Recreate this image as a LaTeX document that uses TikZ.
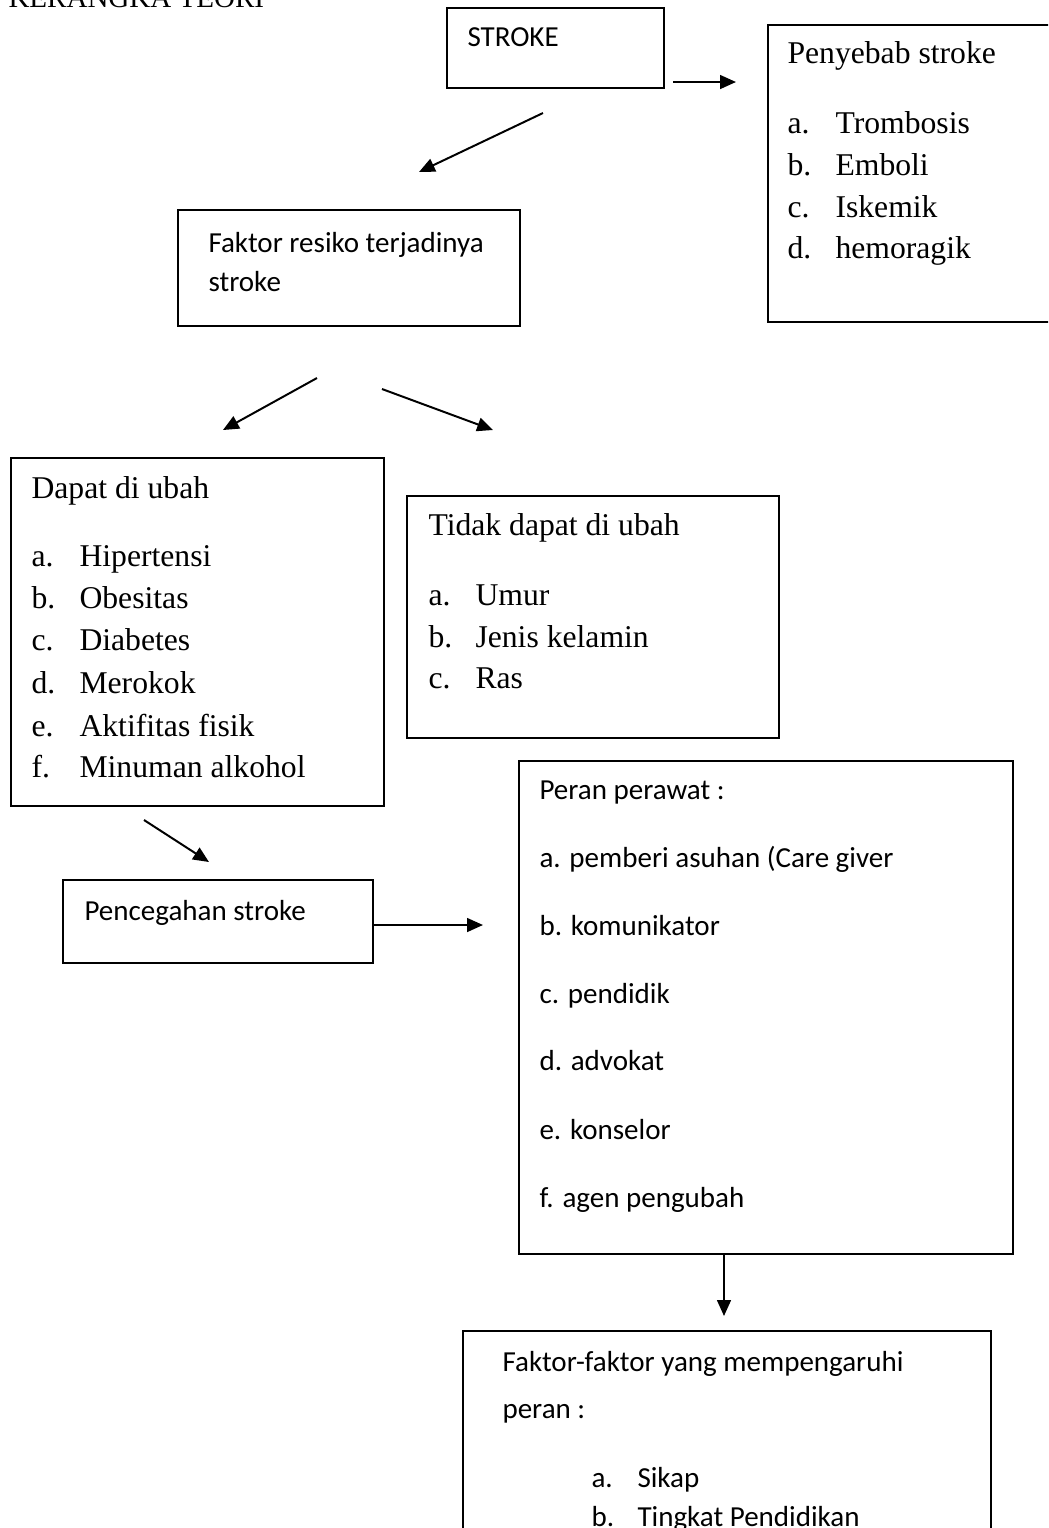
\documentclass[tikz,border=0pt]{standalone}
\usepackage{fontspec}
\setmainfont{Liberation Serif}
\newfontfamily\calibri{Carlito}
\usetikzlibrary{arrows.meta, positioning}
\newcommand{\pxu}{0.379pt}
\tikzset{
  kbox/.style={draw=black, line width=0.6pt, inner sep=0pt, anchor=north west},
  ttext/.style={anchor=base west, inner sep=0pt, font=\fontsize{12}{14}\selectfont},
  ctext/.style={anchor=base west, inner sep=0pt, font=\calibri\fontsize{11}{13}\selectfont},
  arr/.style={-{Triangle[length=6pt, width=5.2pt]}, line width=0.75pt},
}

\begin{document}
\begin{tikzpicture}[x=0.379pt, y=-0.379pt]
  \useasboundingbox (0,0) rectangle (1048,1528);
  \clip (0,0) rectangle (1048,1528);

  %% Judul
  \node[ttext, font=\fontsize{11}{13}\selectfont] (judul) at (8,7) {KERANGKA TEORI};

  %% Stroke
  \node[kbox, minimum width=217*\pxu, minimum height=80*\pxu] (stroke) at (446,7) {};
  \node[ctext] (stroketxt) at (467,46) {STROKE};

  %% Penyebab stroke
  \node[kbox, minimum width=300*\pxu, minimum height=297*\pxu] (sebab) at (767,24) {};
  \node[ttext] (sebabtxt) at (787,63) {Penyebab stroke};
  \foreach \k/\t/\y [count=\i] in {a./Trombosis/133, b./Emboli/175, c./Iskemik/217, d./hemoragik/258} {
    \node[ttext] (sebabk\i) at (787,\y) {\k};
    \node[ttext] (sebabt\i) at (835,\y) {\t};
  }

  %% Faktor resiko
  \node[kbox, minimum width=342*\pxu, minimum height=116*\pxu] (resiko) at (177,209) {};
  \node[ctext] (resikotxt1) at (208,252) {Faktor resiko terjadinya};
  \node[ctext] (resikotxt2) at (208,291) {stroke};

  %% Dapat di ubah
  \node[kbox, minimum width=373*\pxu, minimum height=348*\pxu] (dapat) at (10,457) {};
  \node[ttext] (dapattxt) at (31,498) {Dapat di ubah};
  \foreach \k/\t/\y [count=\i] in {a./Hipertensi/566, b./Obesitas/608, c./Diabetes/650,
      d./Merokok/693, e./Aktifitas fisik/736, f./Minuman alkohol/777} {
    \node[ttext] (dapatk\i) at (31,\y) {\k};
    \node[ttext] (dapatt\i) at (79,\y) {\t};
  }

  %% Tidak dapat di ubah
  \node[kbox, minimum width=372*\pxu, minimum height=242*\pxu] (tidak) at (406,495) {};
  \node[ttext] (tidaktxt) at (428,535) {Tidak dapat di ubah};
  \foreach \k/\t/\y [count=\i] in {a./Umur/605, b./Jenis kelamin/647, c./Ras/688} {
    \node[ttext] (tidakk\i) at (428,\y) {\k};
    \node[ttext] (tidakt\i) at (475,\y) {\t};
  }

  %% Pencegahan stroke
  \node[kbox, minimum width=310*\pxu, minimum height=83*\pxu] (cegah) at (62,879) {};
  \node[ctext] (cegahtxt) at (84,920) {Pencegahan stroke};

  %% Peran perawat
  \node[kbox, minimum width=494*\pxu, minimum height=493*\pxu] (peran) at (518,760) {};
  \foreach \t/\y [count=\i] in {{Peran perawat :}/799, {a. pemberi asuhan (Care giver}/867,
      {b. komunikator}/935, {c. pendidik}/1003, {d. advokat}/1070, {e. konselor}/1139,
      {f. agen pengubah}/1207} {
    \node[ctext] (perant\i) at (539,\y) {\t};
  }

  %% Faktor yang mempengaruhi
  \node[kbox, minimum width=528*\pxu, minimum height=215*\pxu] (pengaruh) at (462,1330) {};
  \node[ctext] (pengaruhtxt1) at (502,1371) {Faktor-faktor yang mempengaruhi};
  \node[ctext] (pengaruhtxt2) at (502,1418) {peran :};
  \node[ctext] (pengaruhk1) at (591,1487) {a.};
  \node[ctext] (pengaruht1) at (637,1487) {Sikap};
  \node[ctext] (pengaruhk2) at (591,1526) {b.};
  \node[ctext] (pengaruht2) at (637,1526) {Tingkat Pendidikan};

  %% Panah
  \coordinate (a1s) at (673,82);   \coordinate (a1e) at (736,82);
  \coordinate (a2s) at (543,113);  \coordinate (a2e) at (419,172);
  \coordinate (a3s) at (317,378);  \coordinate (a3e) at (223,430);
  \coordinate (a4s) at (382,389);  \coordinate (a4e) at (493,430);
  \coordinate (a5s) at (144,820);  \coordinate (a5e) at (209,862);
  \coordinate (a6e) at (483,925);
  \coordinate (a7e) at (724,1316);
  \draw[arr] (a1s) -- (a1e);
  \draw[arr] (a2s) -- (a2e);
  \draw[arr] (a3s) -- (a3e);
  \draw[arr] (a4s) -- (a4e);
  \draw[arr] (a5s) -- (a5e);
  \draw[arr] (cegah.east |- a6e) -- (a6e);
  \draw[arr] (peran.south -| a7e) -- (a7e);

\end{tikzpicture}
\end{document}
